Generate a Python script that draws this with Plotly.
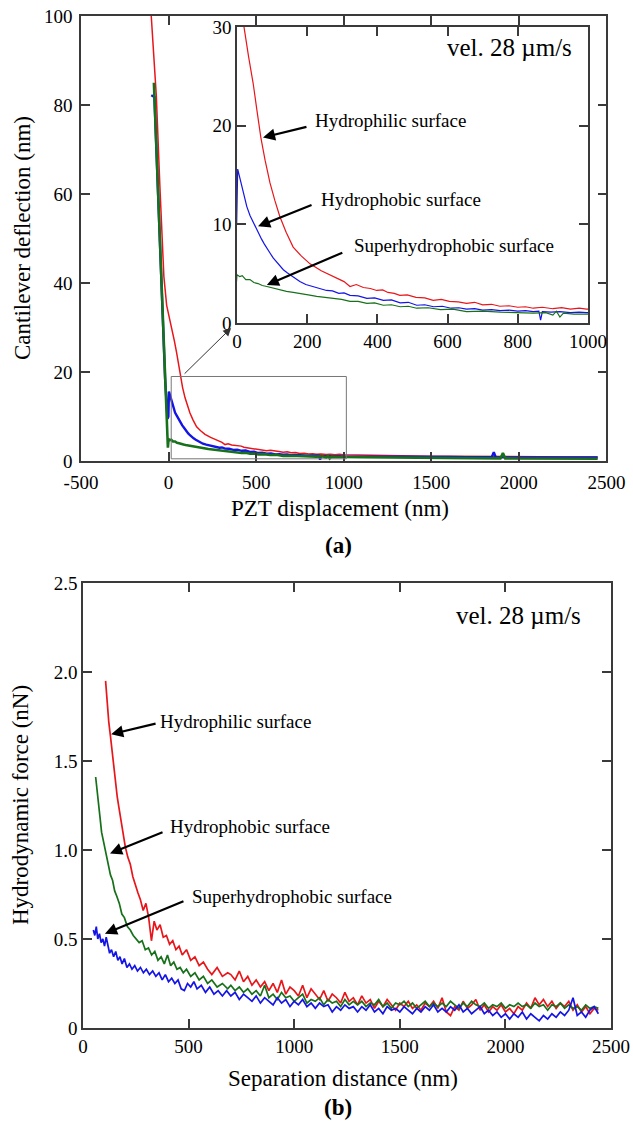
import plotly.graph_objects as go

# ---------------- (a) cantilever deflection vs PZT displacement ----------------
pzt_red_x = [-99, -85, -70, -50, -27, -11, 0, 10, 20, 33, 46, 57, 68, 80, 94, 108, 122, 140, 160, 183,
             208, 240, 258, 274, 290, 305, 322, 340, 360, 380, 398, 415, 430, 448, 464, 485, 510, 535,
             559, 582, 605, 630, 654, 677, 700, 725, 749, 775, 800, 822, 844, 870, 900, 925, 950, 975,
             996, 1050, 1100, 1150, 1200, 1300, 1400, 1500, 1600, 1700, 1800, 1900, 2000, 2100, 2200,
             2300, 2450]
pzt_red_y = [100, 91, 82, 62, 41.5, 35, 33, 31.5, 30, 27, 24.3, 21.5, 18.8, 16.5, 14.2, 12.4, 10.8, 9.2,
             7.7, 6.8, 6.0, 5.3, 5.0, 4.7, 4.5, 4.2, 3.7, 3.9, 3.6, 3.5, 3.3, 3.35, 3.1, 3.0, 2.8, 2.85,
             2.6, 2.55, 2.3, 2.4, 2.2, 2.15, 2.0, 2.1, 1.85, 1.9, 1.7, 1.75, 1.6, 1.65, 1.5, 1.6, 1.45,
             1.55, 1.4, 1.5, 1.4, 1.35, 1.3, 1.3, 1.25, 1.2, 1.15, 1.1, 1.1, 1.05, 1.0, 1.0, 0.95, 0.95,
             0.9, 0.9, 0.9]

pzt_blue_x = [-99, -84, -81, -60, -43, -20, -6, -1, 2, 10, 18, 28, 37, 45, 53, 61, 70, 78, 86, 94, 103,
              112, 122, 132, 143, 155, 167, 179, 196, 215, 235, 255, 272, 290, 305, 322, 345, 370, 392,
              417, 440, 465, 488, 512, 535, 560, 585, 610, 632, 654, 677, 700, 725, 750, 775, 800, 822,
              844, 860, 865, 870, 895, 920, 950, 975, 996, 1100, 1200, 1300, 1400, 1500, 1600, 1700,
              1800, 1845, 1857, 1868, 1950, 2050, 2150, 2250, 2350, 2450]
pzt_blue_y = [82.2, 82, 81.8, 60, 42.3, 18.5, 9.5, 10, 15.6, 14.4, 13.2, 11.8, 10.9, 10.3, 9.7, 9.1, 8.5,
              8.0, 7.6, 7.1, 6.6, 6.2, 5.8, 5.4, 5.1, 4.8, 4.5, 4.2, 3.9, 3.7, 3.5, 3.3, 3.25, 3.0, 3.05,
              2.8, 2.75, 2.5, 2.55, 2.3, 2.35, 2.05, 2.1, 1.8, 1.85, 1.65, 1.7, 1.5, 1.55, 1.4, 1.45,
              1.3, 1.35, 1.25, 1.3, 1.2, 1.25, 1.15, 1.2, 0.3, 1.15, 1.1, 1.15, 1.05, 1.1, 1.05, 1.0,
              0.97, 0.95, 0.93, 0.9, 0.9, 0.88, 0.87, 0.85, 2.0, 0.85, 0.83, 0.82, 0.8, 0.8, 0.8, 0.8]

pzt_green_x = [-84, -63, -42, -23, -4, 0, 8, 15, 25, 37, 48, 60, 72, 85, 97, 110, 125, 141, 160, 180,
               203, 227, 250, 275, 298, 322, 345, 370, 392, 417, 440, 465, 488, 512, 545, 580, 615, 654,
               700, 750, 800, 844, 880, 900, 910, 920, 930, 960, 996, 1100, 1200, 1300, 1400, 1500,
               1600, 1700, 1800, 1895, 1909, 1922, 2000, 2100, 2200, 2300, 2450]
pzt_green_y = [85, 63.3, 41.5, 21.8, 3, 4.9, 4.7, 4.8, 4.4, 4.4, 4.1, 4.0, 3.8, 3.7, 3.6, 3.5, 3.3, 3.2,
               3.1, 2.95, 2.85, 2.7, 2.6, 2.45, 2.4, 2.2, 2.2, 2.0, 2.05, 1.8, 1.85, 1.65, 1.7, 1.5,
               1.55, 1.35, 1.4, 1.15, 1.2, 1.1, 1.05, 1.0, 1.05, 0.8, 1.2, 0.6, 1.0, 0.9, 0.9, 0.85,
               0.8, 0.78, 0.75, 0.7, 0.68, 0.65, 0.62, 0.6, 1.8, 0.6, 0.58, 0.55, 0.55, 0.52, 0.5]

pzt_tickvals = [-500, 0, 500, 1000, 1500, 2000, 2500]
pzt_ticktext = ["-500", "0", "500", "1000", "1500", "2000", "2500"]
defl_tickvals = [0, 20, 40, 60, 80, 100]
inset_xticks = [0, 200, 400, 600, 800, 1000]
inset_yticks = [0, 10, 20, 30]

# ---------------- (b) hydrodynamic force vs separation distance ----------------
# approach part (irregular spacing) followed by the far-field tail sampled every 20 nm
sep_tail_x = list(range(700, 2441, 20))

sep_red_x = [107, 115, 122, 130, 138, 146, 154, 162, 170, 180, 190, 200, 212, 224, 236, 248, 260, 272,
             285, 298, 311, 324, 337, 350, 365, 380, 395, 410, 425, 440, 455, 470, 490, 510, 530, 550,
             570, 590, 610, 635, 660, 685] + sep_tail_x
sep_red_y = [1.95, 1.80, 1.72, 1.64, 1.55, 1.47, 1.40, 1.30, 1.24, 1.16, 1.10, 1.02, 0.96, 0.92, 0.85,
             0.80, 0.76, 0.72, 0.66, 0.70, 0.62, 0.49, 0.60, 0.55, 0.58, 0.51, 0.52, 0.47, 0.49, 0.44,
             0.46, 0.41, 0.44, 0.38, 0.40, 0.35, 0.37, 0.33, 0.30, 0.34, 0.29, 0.31,
             0.30, 0.27, 0.32, 0.26, 0.29, 0.24, 0.27, 0.23, 0.26, 0.21,
             0.25, 0.20, 0.27, 0.19, 0.23, 0.21, 0.18, 0.24, 0.17, 0.22,
             0.19, 0.16, 0.21, 0.15, 0.19, 0.17, 0.14, 0.20, 0.15, 0.17,
             0.13, 0.18, 0.14, 0.16, 0.11, 0.15, 0.12, 0.16, 0.13, 0.10,
             0.14, 0.12, 0.15, 0.11, 0.13, 0.10, 0.14, 0.12, 0.15, 0.11,
             0.17, 0.09, 0.07, 0.12, 0.10, 0.15, 0.11, 0.13, 0.16, 0.10,
             0.13, 0.09, 0.12, 0.10, 0.13, 0.09, 0.11, 0.08, 0.12, 0.10,
             0.14, 0.11, 0.17, 0.13, 0.16, 0.12, 0.15, 0.11, 0.14, 0.12,
             0.15, 0.10, 0.13, 0.09, 0.12, 0.08, 0.11, 0.10]

sep_green_x = [60, 66, 72, 80, 88, 96, 104, 112, 120, 130, 140, 150, 160, 172, 184, 196, 210, 224, 238,
               252, 266, 280, 295, 310, 325, 340, 355, 370, 385, 400, 415, 430, 445, 460, 475, 490, 510,
               530, 550, 570, 590, 610, 635, 660, 685] + sep_tail_x
sep_green_y = [1.41, 1.33, 1.27, 1.19, 1.10, 1.05, 1.00, 0.97, 0.91, 0.86, 0.83, 0.77, 0.74, 0.70, 0.64,
               0.62, 0.57, 0.55, 0.52, 0.50, 0.48, 0.49, 0.44, 0.45, 0.41, 0.43, 0.38, 0.40, 0.36, 0.41,
               0.35, 0.37, 0.33, 0.34, 0.31, 0.33, 0.29, 0.31, 0.27, 0.29, 0.25, 0.27, 0.23, 0.25, 0.22,
               0.24, 0.21, 0.23, 0.20, 0.22, 0.19, 0.21, 0.18, 0.24, 0.17,
               0.19, 0.16, 0.20, 0.17, 0.18, 0.15, 0.17, 0.19, 0.14, 0.16,
               0.15, 0.17, 0.13, 0.16, 0.14, 0.15, 0.12, 0.16, 0.13, 0.15,
               0.13, 0.15, 0.12, 0.14, 0.13, 0.16, 0.12, 0.14, 0.11, 0.14,
               0.13, 0.15, 0.12, 0.14, 0.11, 0.13, 0.15, 0.12, 0.14, 0.12,
               0.14, 0.12, 0.15, 0.13, 0.11, 0.14, 0.12, 0.15, 0.13, 0.12,
               0.14, 0.11, 0.13, 0.12, 0.14, 0.11, 0.13, 0.12, 0.14, 0.12,
               0.13, 0.11, 0.14, 0.12, 0.13, 0.10, 0.13, 0.12, 0.14, 0.11,
               0.13, 0.11, 0.12, 0.10, 0.13, 0.11, 0.12, 0.11]

sep_blue_x = [49, 56, 63, 70, 78, 86, 94, 102, 110, 118, 126, 135, 145, 155, 165, 175, 185, 196, 208,
              220, 232, 245, 258, 272, 286, 300, 315, 330, 345, 360, 375, 390, 405, 420, 435, 450, 465,
              480, 495, 510, 525, 540, 560, 580, 600, 620, 640, 660, 680] + sep_tail_x
sep_blue_y = [0.55, 0.52, 0.57, 0.50, 0.53, 0.48, 0.50, 0.46, 0.51, 0.47, 0.42, 0.44, 0.40, 0.43, 0.38,
              0.40, 0.36, 0.39, 0.34, 0.36, 0.33, 0.35, 0.32, 0.34, 0.31, 0.33, 0.30, 0.32, 0.29, 0.31,
              0.27, 0.30, 0.26, 0.28, 0.25, 0.27, 0.22, 0.21, 0.25, 0.23, 0.26, 0.22, 0.24, 0.20, 0.23,
              0.19, 0.21, 0.18, 0.21,
              0.18, 0.20, 0.16, 0.19, 0.17, 0.15, 0.18, 0.14, 0.17, 0.15,
              0.13, 0.17, 0.14, 0.16, 0.12, 0.15, 0.13, 0.16, 0.12, 0.14,
              0.11, 0.14, 0.12, 0.13, 0.09, 0.12, 0.10, 0.13, 0.11, 0.12,
              0.09, 0.12, 0.10, 0.13, 0.09, 0.11, 0.08, 0.12, 0.10, 0.11,
              0.09, 0.12, 0.10, 0.08, 0.11, 0.09, 0.12, 0.10, 0.13, 0.09,
              0.11, 0.09, 0.12, 0.10, 0.13, 0.09, 0.11, 0.08, 0.10, 0.12,
              0.08, 0.10, 0.07, 0.09, 0.06, 0.08, 0.05, 0.08, 0.06, 0.09,
              0.05, 0.08, 0.06, 0.04, 0.07, 0.05, 0.08, 0.06, 0.09, 0.07,
              0.10, 0.17, 0.07, 0.09, 0.06, 0.10, 0.12, 0.08]

sep_tickvals = [0, 500, 1000, 1500, 2000, 2500]
force_tickvals = [0, 0.5, 1.0, 1.5, 2.0, 2.5]
force_ticktext = ["0", "0.5", "1.0", "1.5", "2.0", "2.5"]

RED = "#e8161b"
BLUE = "#1414e6"
GREEN = "#17701a"
FONT = "Liberation Serif"
AXIS_COLOR = "#3a3a3a"

fig = go.Figure()

# main deflection panel
for xs, ys, col, w in [(pzt_red_x, pzt_red_y, RED, 1.5),
                       (pzt_blue_x, pzt_blue_y, BLUE, 2.4),
                       (pzt_green_x, pzt_green_y, GREEN, 2.6)]:
    fig.add_trace(go.Scatter(x=xs, y=ys, mode="lines", line=dict(color=col, width=w),
                             xaxis="x", yaxis="y", showlegend=False))

# zoomed inset of the same curves
for xs, ys, col in [(pzt_red_x, pzt_red_y, RED),
                    (pzt_blue_x, pzt_blue_y, BLUE),
                    (pzt_green_x, pzt_green_y, GREEN)]:
    fig.add_trace(go.Scatter(x=xs, y=ys, mode="lines", line=dict(color=col, width=1.2),
                             xaxis="x2", yaxis="y2", showlegend=False))

# force panel
for xs, ys, col in [(sep_red_x, sep_red_y, RED),
                    (sep_green_x, sep_green_y, GREEN),
                    (sep_blue_x, sep_blue_y, BLUE)]:
    fig.add_trace(go.Scatter(x=xs, y=ys, mode="lines", line=dict(color=col, width=1.7),
                             xaxis="x3", yaxis="y3", showlegend=False))

tickfont = dict(family=FONT, size=19, color="black")
axis_common = dict(ticks="inside", ticklen=9, tickwidth=1.5, tickcolor=AXIS_COLOR,
                   showline=True, linecolor=AXIS_COLOR, linewidth=1.5, mirror="ticks",
                   showgrid=False, zeroline=False, tickfont=tickfont, automargin=False)

fig.update_layout(
    width=633, height=1122, autosize=False,
    margin=dict(l=0, r=0, t=0, b=0),
    paper_bgcolor="white", plot_bgcolor="rgba(0,0,0,0)",
    font=dict(family=FONT, color="black"),
    xaxis=dict(domain=[0.128, 0.958], anchor="y", range=[-500, 2500],
               tickvals=pzt_tickvals, ticktext=pzt_ticktext, ticklabelstandoff=3,
               **axis_common),
    yaxis=dict(domain=[0.5891, 0.9857], anchor="x", range=[0, 100],
               tickvals=defl_tickvals, ticklabelstandoff=3, **axis_common),
    xaxis2=dict(domain=[0.3744, 0.9289], anchor="y2", range=[0, 1000],
                tickvals=inset_xticks, **axis_common),
    yaxis2=dict(domain=[0.7121, 0.9759], anchor="x2", range=[0, 30],
                tickvals=inset_yticks, **axis_common),
    xaxis3=dict(domain=[0.1311, 0.9653], anchor="y3", range=[0, 2500],
                tickvals=sep_tickvals, **axis_common),
    yaxis3=dict(domain=[0.0838, 0.4804], anchor="x3", range=[0, 2.5],
                tickvals=force_tickvals, ticktext=force_ticktext, **axis_common),
)

# zoom window marked on the main deflection panel
fig.add_shape(type="rect", xref="x", yref="y", x0=15, x1=1015, y0=0.5, y1=19,
              line=dict(color="#777777", width=1))

ann = []
# arrow from zoom window to inset
ann.append(dict(xref="x", yref="y", axref="x", ayref="y", x=357, y=29.9, ax=83, ay=19.3,
                text="", showarrow=True, arrowhead=2, arrowsize=1.6, arrowwidth=1,
                arrowcolor="#333333"))

label_font = dict(family=FONT, size=19, color="black")
vel_font = dict(family=FONT, size=25, color="black")
title_font = dict(family=FONT, size=23, color="black")

# inset labels and pointers
inset_labels = [("Hydrophilic surface", 216, 20.5, 74, 18.8, 45, -11),
                ("Hydrophobic surface", 234, 12.5, 60, 9.8, 55, -22),
                ("Superhydrophobic surface", 328, 7.9, 85, 3.85, 77, -33)]
for txt, tx, ty, px, py, dx, dy in inset_labels:
    ann.append(dict(xref="x2", yref="y2", x=tx, y=ty, text=txt, showarrow=False,
                    xanchor="left", yanchor="middle", font=label_font))
    ann.append(dict(xref="x2", yref="y2", x=px, y=py, ax=dx, ay=dy, text="",
                    showarrow=True, arrowhead=2, arrowsize=1.1, arrowwidth=2.2,
                    arrowcolor="black"))
ann.append(dict(xref="x2", yref="y2", x=960, y=27.9, text="vel. 28 µm/s", showarrow=False,
                xanchor="right", yanchor="middle", font=vel_font))

# force panel labels and pointers
force_labels = [("Hydrophilic surface", 355, 1.72, 133, 1.65, 46, -11),
                ("Hydrophobic surface", 402, 1.13, 128, 0.98, 54, -22),
                ("Superhydrophobic surface", 507, 0.736, 104, 0.53, 80, -33)]
for txt, tx, ty, px, py, dx, dy in force_labels:
    ann.append(dict(xref="x3", yref="y3", x=tx, y=ty, text=txt, showarrow=False,
                    xanchor="left", yanchor="middle", font=label_font))
    ann.append(dict(xref="x3", yref="y3", x=px, y=py, ax=dx, ay=dy, text="",
                    showarrow=True, arrowhead=2, arrowsize=1.1, arrowwidth=2.2,
                    arrowcolor="black"))
ann.append(dict(xref="x3", yref="y3", x=2367, y=2.315, text="vel. 28 µm/s", showarrow=False,
                xanchor="right", yanchor="middle", font=vel_font))

# axis titles and panel tags
ann.append(dict(xref="paper", yref="paper", x=340 / 633, y=1 - 509 / 1122,
                text="PZT displacement (nm)", showarrow=False, font=title_font,
                xanchor="center", yanchor="middle"))
ann.append(dict(xref="paper", yref="paper", x=22 / 633, y=1 - 238 / 1122,
                text="Cantilever deflection (nm)", textangle=-90, showarrow=False,
                font=title_font, xanchor="center", yanchor="middle"))
ann.append(dict(xref="paper", yref="paper", x=338 / 633, y=1 - 545 / 1122,
                text="<b>(a)</b>", showarrow=False, font=title_font,
                xanchor="center", yanchor="middle"))
ann.append(dict(xref="paper", yref="paper", x=343 / 633, y=1 - 1078 / 1122,
                text="Separation distance (nm)", showarrow=False, font=title_font,
                xanchor="center", yanchor="middle"))
ann.append(dict(xref="paper", yref="paper", x=20 / 633, y=1 - 805 / 1122,
                text="Hydrodynamic force (nN)", textangle=-90, showarrow=False,
                font=title_font, xanchor="center", yanchor="middle"))
ann.append(dict(xref="paper", yref="paper", x=338 / 633, y=1 - 1107 / 1122,
                text="<b>(b)</b>", showarrow=False, font=title_font,
                xanchor="center", yanchor="middle"))

fig.update_layout(annotations=ann)
fig.write_html("out.html")
